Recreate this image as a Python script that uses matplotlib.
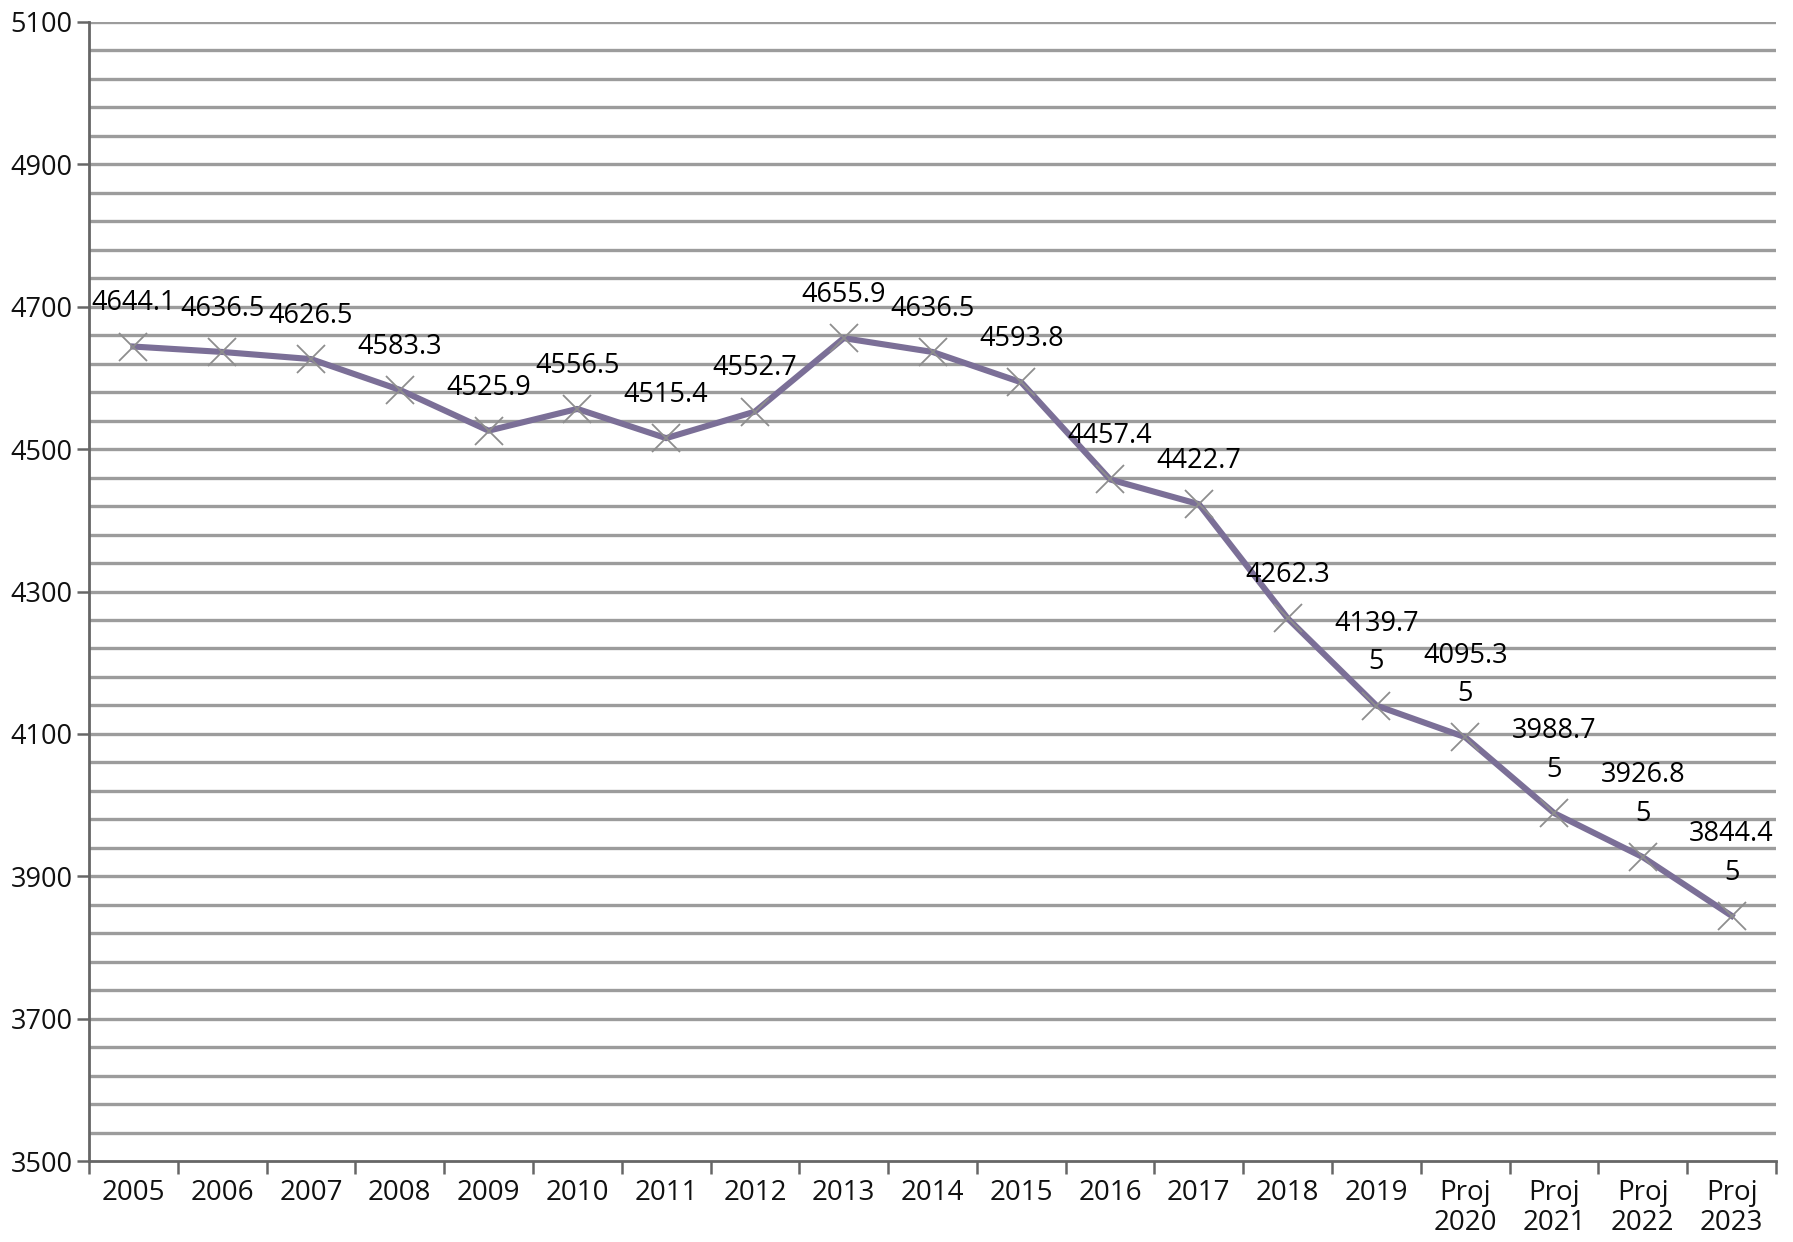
import matplotlib
matplotlib.use("Agg")
import matplotlib.pyplot as plt
import numpy as np

categories = ["2005", "2006", "2007", "2008", "2009", "2010", "2011", "2012", "2013",
              "2014", "2015", "2016", "2017", "2018", "2019",
              "Proj\n2020", "Proj\n2021", "Proj\n2022", "Proj\n2023"]
values = [4644.1, 4636.5, 4626.5, 4583.3, 4525.9, 4556.5, 4515.4, 4552.7, 4655.9,
          4636.5, 4593.8, 4457.4, 4422.7, 4262.3, 4139.75,
          4095.35, 3988.75, 3926.85, 3844.45]
value_labels = ["4644.1", "4636.5", "4626.5", "4583.3", "4525.9", "4556.5", "4515.4",
                "4552.7", "4655.9", "4636.5", "4593.8", "4457.4", "4422.7", "4262.3",
                "4139.7\n5", "4095.3\n5", "3988.7\n5", "3926.8\n5", "3844.4\n5"]
y_ticks = [3500, 3700, 3900, 4100, 4300, 4500, 4700, 4900, 5100]

plt.rcParams['font.family'] = ['Open Sans', 'DejaVu Sans']

fig = plt.figure(figsize=(17.93, 12.42), dpi=100)
ax = fig.add_axes([89/1793, 1 - 1161/1242, (1776-89)/1793, (1161-22)/1242])

x = np.arange(len(categories))
ax.set_xlim(-0.5, len(categories) - 0.5)
ax.set_ylim(3500, 5100)

# gridlines every 40
for yv in np.arange(3540, 5101, 40):
    ax.axhline(yv, color='#9c9c9c', lw=2.4, zorder=1)

ax.plot(x, values, color='#7b6f97', lw=4.4, zorder=3, solid_joinstyle='round')
ax.plot(x, values, ls='none', marker='x', ms=20, mew=1.3, color='#8e8e8e', zorder=4)

for xi, v, lab in zip(x, values, value_labels):
    ax.annotate(lab, (xi, v), xytext=(0, 21), textcoords='offset points',
                ha='center', va='bottom', fontsize=19.5, color='#000000',
                linespacing=1.5, zorder=5)

ax.set_yticks(y_ticks)
ax.set_yticklabels([str(t) for t in y_ticks], fontsize=19.5, color='#111111')
ax.set_xticks(x)
ax.set_xticklabels(categories, fontsize=20, color='#111111', linespacing=1.1)
ax.set_xticks(np.arange(-0.5, len(categories), 1.0), minor=True)
ax.tick_params(axis='x', which='major', length=0, pad=13)
ax.tick_params(axis='x', which='minor', length=9, width=1.8, color='#666666')
ax.tick_params(axis='y', which='major', length=9, width=1.8, color='#666666', pad=3)

for s in ['top', 'right']:
    ax.spines[s].set_visible(False)
for s in ['left', 'bottom']:
    ax.spines[s].set_color('#666666')
    ax.spines[s].set_linewidth(2)

fig.savefig("out.png", dpi=100, facecolor='white')
